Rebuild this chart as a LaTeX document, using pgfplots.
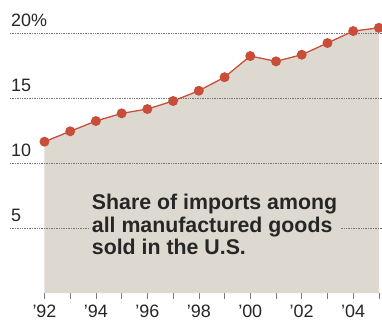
\documentclass[border=0pt]{standalone}
\usepackage{pgfplots}
\pgfplotsset{compat=1.18}
\usepackage{fontspec}
\setmainfont{Liberation Sans}
\definecolor{areacol}{RGB}{221,217,209}
\definecolor{redcol}{RGB}{200,78,58}
\definecolor{gridcol}{RGB}{120,120,120}
\begin{document}
\begin{tikzpicture}
\useasboundingbox (-10bp,-29bp) rectangle (372bp,293bp);
\begin{axis}[
  at={(0,0)}, anchor=origin,
  scale only axis, width=372bp, height=293bp,
  xmin=1990.66, xmax=2005.12, ymin=0, ymax=22.54,
  axis x line*=bottom, x axis line style={draw=none},
  hide y axis,
  xtick={1992,...,2005},
  xticklabels={{'92},,{'94},,{'96},,{'98},,{'00},,{'02},,{'04},},
  tick align=outside, major tick length=6bp,
  x tick style={gridcol, line width=0.6bp},
  x tick label style={font=\fontsize{18}{20}\selectfont, text=black!85, yshift=-2.5bp},
  clip=false,
]
\addplot[fill=areacol, draw=none] coordinates {
(1992,11.64) (1993,12.44) (1994,13.23) (1995,13.82) (1996,14.15) (1997,14.77)
(1998,15.56) (1999,16.6) (2000,18.23) (2001,17.82) (2002,18.33) (2003,19.23)
(2004,20.15) (2005,20.4)} \closedcycle;
\foreach \v in {5,10,15,20} {
  \edef\temp{\noexpand\addplot[gridcol, densely dotted, line width=0.7bp] coordinates {(1990.66,\v) (2005.12,\v)};}
  \temp
}
\node[fill=areacol, anchor=north west, align=left, inner sep=3bp,
  font=\fontsize{21.4}{22.5}\selectfont\bfseries, text=black!85]
  at (axis cs:1993.72,7.85) {Share of imports among\\all manufactured goods\\sold in the U.S.};
\addplot[redcol, line width=1.3bp, mark=*, mark size=4.3bp, mark options={fill=redcol, draw=none}] coordinates {
(1992,11.64) (1993,12.44) (1994,13.23) (1995,13.82) (1996,14.15) (1997,14.77)
(1998,15.56) (1999,16.6) (2000,18.23) (2001,17.82) (2002,18.33) (2003,19.23)
(2004,20.15) (2005,20.4)};
\foreach \v/\t in {5/5,10/10,15/15,20/20\%} {
  \edef\temp{\noexpand\node[anchor=base west, inner sep=0pt, font=\noexpand\fontsize{18}{20}\noexpand\selectfont, text=black!85] at (axis cs:1990.7,\v) [yshift=6.5bp] {\t};}
  \temp
}
\end{axis}
\end{tikzpicture}
\end{document}
